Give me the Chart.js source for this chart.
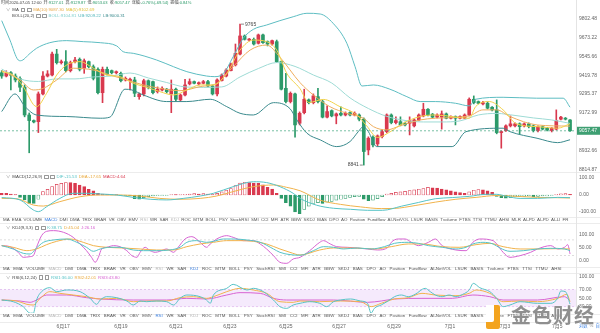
<!DOCTYPE html>
<html><head><meta charset="utf-8">
<script src="https://cdn.jsdelivr.net/npm/chart.js@4.4.0/dist/chart.umd.min.js"></script>
<style>
html,body{margin:0;padding:0;background:#fff;}
#wrap{position:relative;width:600px;height:333px;overflow:hidden;background:#fff;font-family:"Liberation Sans",Arial,"Noto Sans CJK SC",sans-serif;}
canvas{position:absolute;left:0;}
.t{position:absolute;white-space:nowrap;line-height:1;color:#444;}
.t span{margin-right:2px;}
.ico{display:inline-block;width:2.6px;height:2.6px;border:0.6px solid #999;border-radius:0.5px;margin-right:1.6px;vertical-align:middle;}
.hl{position:absolute;left:0;width:600px;height:1px;background:#ececec;}
.row{position:absolute;left:3px;display:flex;justify-content:space-between;font-size:4.4px;line-height:1;color:#555;white-space:nowrap;}
</style></head>
<body><div id="wrap">
<canvas id="cMain" width="600" height="172" style="top:0"></canvas>
<canvas id="cMacd" width="600" height="45" style="top:172px"></canvas>
<canvas id="cKdj" width="600" height="43" style="top:223px"></canvas>
<canvas id="cRsi" width="600" height="61" style="top:272px"></canvas>
</div>
<script>
// ---- candles (4h) ----
const opens = [9436,9414,9436,9414,9397,9340,9159,9123,9116,9296,9414,9421,9561,9503,9510,9450,9510,9526,9466,9510,
  9476,9459,9304,9459,9450,9436,9432,9388,9383,9388,9278,9296,9383,9377,9311,9322,9327,9296,9327,9257,
  9289,9362,9377,9362,9366,9377,9348,9296,9383,9414,9450,9488,9561,9684,9656,9661,9634,9691,9645,9629,
  9645,9510,9333,9246,9296,9106,9174,9257,9239,9278,9246,9145,9187,9153,9170,9159,9174,9159,9159,9132,
  8936,9017,8974,9021,9052,9159,9110,9116,9106,9106,9089,9127,9153,9196,9164,9145,9145,9166,9138,9149,
  9138,9138,9159,9261,9246,9231,9235,9209,9192,9046,9059,9089,9089,9102,9089,9102,9089,9059,9084,9074,
  9059,9068,9132,9138,9127.01];
const highs = [9450,9449,9444,9428,9408,9355,9172,9127,9309,9443,9450,9575,9593,9521,9584,9514,9539,9535,9528,9514,
  9488,9468,9474,9474,9454,9448,9441,9408,9401,9406,9302,9393,9388,9381,9342,9342,9332,9388,9335,9296,
  9393,9395,9381,9375,9385,9385,9355,9395,9428,9463,9501,9629,9765,9691,9667,9670,9697,9697,9650,9656,
  9656,9514,9432,9309,9302,9179,9327,9263,9296,9333,9257,9218,9192,9172,9211,9179,9179,9179,9166,9140,
  9019,9025,9031,9063,9166,9166,9147,9147,9114,9147,9134,9166,9235,9201,9169,9166,9185,9172,9153,9153,
  9153,9166,9270,9283,9250,9247,9244,9214,9257,9057,9095,9153,9108,9108,9108,9108,9095,9089,9089,9079,
  9079,9192,9150,9143,9129.87];
const lows = [9399,9408,9322,9375,9311,9147,8918,9108,9046,9289,9408,9414,9494,9494,9441,9441,9501,9448,9432,9468,
  9388,9296,9239,9421,9428,9428,9375,9381,9322,9278,9261,9283,9329,9296,9302,9316,9302,9174,9250,9250,
  9283,9355,9362,9355,9362,9342,9289,9283,9381,9408,9448,9481,9555,9656,9650,9622,9629,9633,9616,9622,
  9504,9322,9237,9237,9017,9095,9166,9231,9231,9237,9140,9140,9147,9102,9153,9153,9153,9153,9121,8841,
  8905,8955,8962,9012,9044,9102,9102,9089,9089,9031,9082,9121,9147,9153,9140,9140,9068,9134,9134,9095,
  9134,9134,9153,9231,9231,9224,9198,9185,9038,8947,9054,9082,9082,9038,9082,9076,9050,9050,9063,9057,
  9050,9063,9127,9127,9053.03];
const closes = [9414,9432,9419,9388,9340,9159,9123,9114,9296,9414,9428,9561,9503,9510,9450,9503,9521,9459,9516,9476,
  9399,9304,9459,9428,9436,9443,9383,9399,9393,9300,9296,9383,9340,9304,9327,9333,9311,9327,9261,9289,
  9355,9377,9366,9370,9377,9348,9296,9388,9421,9454,9494,9566,9684,9661,9661,9629,9691,9638,9629,9652,
  9510,9327,9246,9300,9095,9170,9261,9239,9283,9246,9145,9181,9153,9166,9159,9170,9159,9170,9132,8926,
  9010,8968,9025,9052,9159,9110,9123,9095,9095,9123,9127,9159,9196,9159,9145,9159,9166,9138,9149,9138,
  9149,9159,9261,9239,9235,9239,9203,9192,9046,9052,9089,9102,9102,9084,9102,9084,9059,9084,9068,9063,
  9074,9123,9145,9132,9057.47];
const priceTicks = [9802.48, 9673.22, 9545.66, 9419.78, 9295.37, 9172.99, 8932.66, 8814.87];

// ---- main overlays (candle index, value) ----
const ma5X = [0,2.5,4.7,7.6,9.8,12,14.2,17.1,20,22.9,25.8,28.7,31.6,34.5,37.5,40.4,43.3,46.2,49.1,52,54.9,57.8,60,62.2,65.1,67,70.2,73.8,77.5,79.6,82,84.7,87.6,91.3,94.6,102,103.4,106.4,109.4,112.3,116.8,121.3,124];
const ma5Y = [9443,9421,9344,9213,9300,9421,9488,9510,9466,9421,9410,9366,9340,9311,9289,9322,9355,9355,9432,9588,9656,9645,9588,9432,9330,9240,9260,9213,9159,9090,9015,9050,9106,9149,9159,9138,9213,9246,9192,9102,9084,9074,9102.69];
const ma10X = [0,4,6.9,9.1,12,15.6,20,23.6,27.3,30.9,34.5,38.9,43.3,46.9,50.5,54.2,57.8,60.7,65.1,68,71.6,75.3,78.9,81.1,84,86.9,91.3,94.6,102,105,108,110.9,116.8,124];
const ma10Y = [9450,9388,9322,9333,9388,9466,9454,9421,9388,9355,9333,9317,9344,9366,9476,9588,9622,9540,9370,9289,9213,9170,9138,9084,9063,9089,9127,9138,9153,9192,9192,9149,9095,9087.30];
const ubX = [0,1.8,3.6,4.1,6.2,7.6,10.5,14.2,17.8,21.5,25.1,26.5,28.7,33.8,37.5,40.4,44.7,46.5,48.4,50.5,52.7,54.9,57.8,60.7,63.6,66.6,69.5,72.3,75.3,77.1,78.6,81.1,84.7,88.4,91.3,94.6,99,102,103.4,109.4,116.7,122.5,124];
const ubY = [9789,9656,9521,9516,9566,9600,9638,9652,9645,9638,9616,9577,9566,9521,9476,9443,9414,9410,9432,9543,9668,9729,9759,9789,9816,9840,9835,9771,9634,9476,9348,9355,9327,9278,9246,9246,9235,9218,9261,9274,9268,9268,9209.22];
const midX = [0,4,8,12,16,20,24,28,32,36,40,44,48,52,56,60,64,68,72,76,80,84,88,92,96,100,104,108,112,116,120,124];
const midY = [9461,9395,9378,9395,9395,9408,9414,9434,9401,9371,9342,9339,9342,9408,9464,9504,9478,9421,9368,9270,9201,9150,9124,9114,9114,9121,9159,9169,9156,9140,9127,9104.81];
const lbX = [0,2.9,5.1,7.6,14.2,21.5,23.6,26.9,28.4,30.9,36,40.4,45.5,49.1,52,54.9,59.3,62.9,64.4,66.6,69.5,73.1,76,77.8,78.9,80,81.8,98.3,101.3,109.4,110.9,116.8,121.3,124];
const lbY = [9181,9296,9213,9159,9149,9138,9145,9327,9322,9289,9246,9246,9261,9213,9170,9159,9239,9200,9127,9042,8999.5,8957,8989,9052,9084,9052,8957,8957,9052,9074,9052,9010,8982,9000.31];

// ---- MACD(12,26,9) ----
const macdHist = [10,10,6,3,-14,-29,-49,-49,-25,20,33,49,63,69,73,73,69,59,49,33,
  25,10,6,4,3,2,-2,-3,-5,-22,-25,-15,-10,-6,-4,-3,-2,2,2,3,
  4,6,8,6,8,5,3,10,18,28,38,55,70,75,73,70,68,60,45,35,
  10,-20,-45,-65,-100,-110,-85,-65,-50,-45,-50,-42,-38,-30,-25,-20,-14,-10,-8,-25,
  -33,-30,-22,-10,5,10,15,18,22,26,30,34,38,45,42,40,35,30,25,18,
  14,10,18,28,32,30,25,15,-8,-15,-18,-15,-12,-10,-8,-6,-10,-8,-6,-5,
  -3,4,7,8,4.64];
const difX = [0,4,6.9,8,9.8,12.7,15.6,18.5,21.5,25.1,28.7,32.4,36,39.6,43.3,46.2,50.5,54.9,57.8,60.7,63.6,65.1,68.7,72.4,76.1,79.8,83.1,87.2,90.9,94.6,98.3,102,105.7,108,110.2,113.1,116.9,121.3,124];
const difY = [-15,-29,-88,-98,-69,-20,10,10,6,0,-14,-25,-29,-20,-6,10,49,78,73,49,10,-20,-60,-78,-84,-90,-90,-66,-44,-22,-15,-8,4,4,-8,-20,-20,-14,-15.53];
const deaX = [0,3.3,6.9,9.1,12.7,17.1,21.5,25.8,30.2,34.5,38.9,43.3,46.9,50.5,54.9,59.3,62.2,65.1,69.4,73.9,78.3,82.8,85.7,90.2,94.6,99.1,103.5,108,112.4,116.9,121.3,124];
const deaY = [-20,-22,-59,-65,-39,-10,0,0,-6,-20,-25,-20,-6,20,49,59,45,25,-30,-55,-70,-80,-79,-62,-42,-25,-14,-3,-8,-14,-16,-17.65];

// ---- KDJ(9,3,3) ----
const kX = [0,2.5,4.7,6.2,7.6,9.1,11.3,14.2,16.4,18.5,20,21.5,23.6,25.8,28.7,30.9,33.8,36.7,38.9,40.4,42.5,44.7,46.2,48.4,50.5,53.5,56.4,59.3,60.7,62.9,65.1,68,70.2,72.4,74.6,77.6,80.6,83.5,85.7,88.7,90.9,93.1,96.1,99.1,101.3,102.8,105,107.2,108.7,110.9,113.9,116.9,119.8,122.8,124];
const kY = [57.9,45.1,28.4,25.8,48.9,70.7,79.7,83.5,70.7,51.5,36.1,45.1,51.5,51.5,41.2,38.6,38.6,41.2,51.5,70.7,77.1,70.7,74.5,83.5,83.5,79.7,70.7,45.1,32.2,23.3,21,38.6,54,51.5,45.1,48.9,45.1,54,66.8,70.7,66.8,57.9,51.5,45.1,51.5,64.3,70.7,64.3,48.9,36.1,38.6,45.1,47.6,45.1,38.75];
const dX = [0,2.5,5.5,7.6,9.8,12,14.9,17.8,20,22.9,26.5,30.2,33.8,37.5,40.4,43.3,46.2,49.1,52,54.9,57.8,60.7,62.9,65.1,69.4,72.4,76.9,81.3,85,88.7,91.7,96.1,99.8,103.5,106.5,109.4,113.1,116.9,121.3,124];
const dY = [57.9,51.5,38.6,45.1,61.7,74.5,83.5,70.7,57.9,51.5,48.9,45.1,41.2,41.2,54,64.3,70.7,77.1,77.1,74.5,64.3,45.1,32.2,22,41.2,48.9,48.9,45.1,54,64.3,64.3,54,51.5,61.7,66.8,54,45.1,45.1,46.3,45.04];
const jX = [0,1.8,3.6,4.7,6.2,6.9,7.6,8.7,9.8,11.3,13.5,15.6,17.1,18.5,19.6,20.4,21.1,21.8,22.9,24.4,25.8,27.3,28.4,29.5,30.2,31.3,32.4,33.5,34.5,36,37.5,38.5,40,41.5,43.3,44.7,45.5,46.9,49.1,50.5,52.7,54.9,56.4,57.8,59.3,60.7,62.2,63.6,65.1,67.2,69.4,70.2,71.7,73.1,75.4,79.8,82,84.3,85,86.5,88,89.4,90.9,93.1,94.6,96.1,99.1,101.3,102.8,104.3,107.2,108,109.4,110.9,113.1,115.4,116.9,119.8,121.3,122.8,123.5,124];
const jY = [57.9,54,32.2,13,15.6,19.4,51.5,96.3,113,115.6,109.1,89.9,64.3,38.6,13,-6.2,13,45.1,51.5,57.9,54,38.6,19.4,13,32.2,51.5,38.6,32.2,36.1,45.1,32.2,51.5,83.5,92.5,70.7,51.5,64.3,83.5,96.3,89.9,77.1,77.1,64.3,45.1,19.4,-6.2,-10.1,6.6,13,38.6,70.7,77.1,64.3,54,51.5,45.1,41.2,51.5,70.7,83.5,83.5,70.7,57.9,70.7,83.5,57.9,41.2,38.6,70.7,83.5,77.1,64.3,32.2,13,19.4,32.2,45.1,57.9,45.1,51.5,61.7,26.16];

// ---- RSI(6,12,24) ----
const r1X = [0,2.5,4.7,6.2,6.9,7.6,8.7,10.5,12,14.2,17.1,19.3,20.7,21.5,22.9,25.1,27.3,28.7,30.2,31.6,33.8,36,37.5,38.9,40.4,43.3,44.7,45.5,46.2,49.1,50.5,53.5,54.9,57.1,59.3,60.7,62.2,63.6,65.1,67.2,69.4,70.9,72.4,73.9,76.1,78.3,79.8,80.6,81.3,82.8,84.3,85.7,87.2,88.7,90.2,92.4,93.5,94.6,96.1,97.6,99.1,100.6,102,102.9,104.3,106.5,108,109.4,110.9,113.1,116.9,119.8,121.3,122,123,124];
const r1Y = [45.6,41.7,30.1,14.5,14.5,45.6,65.1,74.4,65.1,69,65.1,49.5,35.5,45.6,53.4,51.1,43.3,34,43.3,41.7,43.3,41.7,34,49.5,57.3,53.4,45.6,37.9,57.3,72.9,82.2,69,72.9,65.1,45.6,30.1,26.2,34,37.9,41.7,37.9,30.1,41.7,45.6,48,43.3,37.9,14.5,26.2,34,43.3,53.4,57.3,53.4,58.9,72.9,65.1,57.3,53.4,57.3,53.4,58.9,69,84.5,74.4,65.1,49.5,30.1,34,41.7,37.9,37.9,49.5,66.6,65.1,36];
const r2X = [0,3.3,5.5,6.9,8.4,10.5,12.7,15.6,18.5,21.5,25.1,28.7,32.4,36,38.9,41.8,44.7,46.2,49.1,52,54.9,57.8,60.7,63.6,65.1,69.4,73.9,78.3,80.6,82.8,85.7,88.7,91.7,94.6,99.1,102,103.5,106.5,109.4,113.1,116.9,121.3,123.3,124];
const r2Y = [45.6,43.3,35.5,34,49.5,65.1,61.2,57.3,53.4,48,49.5,41.7,43.3,43.3,51.1,53.4,49.5,53.4,65.1,72.9,69,61.2,41.7,40.2,43.3,41.7,43.3,41.7,30.1,37.9,48,51.1,61.2,57.3,55.8,61.2,69,61.2,41.7,43.3,41.7,49.5,58.9,42.01];
const r3X = [0,4,6.2,7.6,9.8,14.2,18.5,21.5,28.7,36,40.4,44.7,49.1,52,56.4,59.3,62.2,65.1,72.4,79.8,82.8,85.7,91.7,98.3,102.8,106.5,109.4,116.9,122.8,124];
const r3Y = [45.6,43.3,40.2,45.6,57.3,57.3,51.1,48,45.6,45.6,49.5,48,57.3,62.8,61.2,49.5,45.6,45.6,45.6,40.2,43.3,48,49.5,49.5,57.3,53.4,45.6,45.6,53.4,43.8];

// ---- time axis ----
const dateIdx = [13.4, 26.0, 38.0, 49.8, 62.0, 73.6, 85.6, 97.8, 109.8, 121.2];
const dateLabels = ['6月17','6月19','6月21','6月23','6月25','6月27','6月29','7月1','7月3','7月5'];

const RED = '#d9394e', GREEN = '#2c9a69';
const TEAL = '#56c3c6', ORG = '#f1b34c', MAG = '#d763d2';
const C_UB = '#5dbdc2', C_MID = '#9edbd5', C_LB = '#3a8a8d', C_MA5 = '#f2d24b', C_MA10 = '#efae5e';
const FONT = '"Liberation Sans", Arial, sans-serif';
const X_MIN = -0.37, X_MAX = 125.3;

const pts = (xs, ys) => xs.map((x, i) => ({x, y: ys[i]}));
const line = (xs, ys, color, extra) => Object.assign({
  type: 'line', data: pts(xs, ys), borderColor: color, borderWidth: 1,
  pointRadius: 0, cubicInterpolationMode: 'monotone', fill: false, order: 1
}, extra || {});
const flat = (v, color, extra) => Object.assign({
  type: 'line', data: [{x: X_MIN, y: v}, {x: X_MAX, y: v}], borderColor: color,
  borderWidth: 0.7, borderDash: [2, 2], pointRadius: 0, fill: false, order: 0
}, extra || {});

function xAxis(show) {
  const ax = {type: 'linear', min: X_MIN, max: X_MAX, offset: false, display: show,
    grid: {display: false, drawTicks: false, offset: false}, border: {display: false}};
  if (show) {
    ax.ticks = {padding: 11, color: '#666', autoSkip: false, maxRotation: 0, minRotation: 0,
      font: {size: 5, family: '"Liberation Sans", "Noto Sans CJK SC", sans-serif'},
      callback: (v, i) => dateLabels[i]};
    ax.afterBuildTicks = s => { s.ticks = dateIdx.map(v => ({value: v})); };
    ax.afterFit = s => { s.height = 20; s.paddingLeft = 0; s.paddingRight = 0; };
  }
  return ax;
}
function yAxis(min, max, ticks, type) {
  return {type: type || 'linear', position: 'right', min, max,
    grid: {display: false, drawTicks: false}, border: {display: false},
    ticks: {padding: 3, color: '#666', font: {size: 5, family: FONT}, callback: v => Number(v).toFixed(2)},
    afterBuildTicks: s => { s.ticks = ticks.map(v => ({value: v})); },
    afterFit: s => { s.width = 24; s.paddingTop = 0; s.paddingBottom = 0; }};
}
function opts(scales) {
  return {responsive: false, animation: false, devicePixelRatio: 1, events: [],
    layout: {padding: 0}, plugins: {legend: {display: false}, tooltip: {enabled: false}}, scales};
}

// extreme labels and last-price tag on the main panel
const mainMarks = {
  id: 'mainMarks',
  afterDatasetsDraw(chart) {
    const {ctx, chartArea, scales: {x, y}} = chart;
    let hi = 0, lo = 0;
    highs.forEach((v, i) => { if (v > highs[hi]) hi = i; if (lows[i] < lows[lo]) lo = i; });
    ctx.save();
    ctx.font = '5px ' + FONT; ctx.textBaseline = 'middle';
    ctx.strokeStyle = '#555'; ctx.fillStyle = '#444'; ctx.lineWidth = 0.7;
    let px = x.getPixelForValue(hi), py = y.getPixelForValue(highs[hi]);
    ctx.beginPath(); ctx.moveTo(px + 1, py); ctx.lineTo(px + 4, py); ctx.stroke();
    ctx.textAlign = 'left'; ctx.fillText(String(highs[hi]), px + 5, py);
    px = x.getPixelForValue(lo); py = y.getPixelForValue(lows[lo]);
    ctx.beginPath(); ctx.moveTo(px - 1, py); ctx.lineTo(px - 4, py); ctx.stroke();
    ctx.textAlign = 'right'; ctx.fillText(String(lows[lo]), px - 5, py);
    const last = closes[closes.length - 1];
    const cy = y.getPixelForValue(last);
    ctx.fillStyle = '#3e9f72';
    ctx.fillRect(chartArea.right, cy - 4, 24, 8);
    ctx.fillStyle = '#fff'; ctx.textAlign = 'left';
    ctx.fillText(last.toFixed(2), chartArea.right + 3, cy + 0.3);
    ctx.restore();
  }
};

const candleCol = opens.map((o, i) => closes[i] >= o ? RED : GREEN);
new Chart(document.getElementById('cMain'), {
  type: 'bar',
  data: {datasets: [
    flat(closes[closes.length - 1], '#3ea57c'),
    line(ma5X, ma5Y, C_MA5),
    line(ma10X, ma10Y, C_MA10),
    line(ubX, ubY, C_UB),
    line(midX, midY, C_MID),
    line(lbX, lbY, C_LB),
    {type: 'bar', data: opens.map((o, i) => ({x: i, y: [o, closes[i]]})), backgroundColor: candleCol,
      borderWidth: 0, barThickness: 3, minBarLength: 1, grouped: false, order: 2},
    {type: 'bar', data: opens.map((o, i) => ({x: i, y: [lows[i], highs[i]]})), backgroundColor: candleCol,
      borderWidth: 0, barThickness: 1, grouped: false, order: 3}
  ]},
  options: opts({x: xAxis(false), y: yAxis(8798, 9932.6, priceTicks, 'logarithmic')}),
  plugins: [mainMarks]
});

const histCol = macdHist.map(v => v >= 0 ? RED : GREEN);
new Chart(document.getElementById('cMacd'), {
  type: 'bar',
  data: {datasets: [
    line(difX, difY, TEAL, {order: 0}),
    line(deaX, deaY, ORG, {order: 0}),
    {type: 'bar', data: macdHist.map((v, i) => ({x: i, y: v})),
      backgroundColor: macdHist.map((v, i) => (i > 0 && v > macdHist[i - 1]) ? '#fff' : histCol[i]),
      borderColor: histCol, borderWidth: 0.7, borderSkipped: false, barThickness: 3, grouped: false, order: 2}
  ]},
  options: opts({x: xAxis(false), y: yAxis(-129.4, 135.3, [100, 0, -100])})
});

new Chart(document.getElementById('cKdj'), {
  type: 'line',
  data: {datasets: [
    line(kX, kY, TEAL), line(dX, dY, ORG), line(jX, jY, MAG),
    flat(80, '#cfcfcf', {order: 3}), flat(20, '#cfcfcf', {order: 3})
  ]},
  options: opts({x: xAxis(false), y: yAxis(-20.4, 145, [100, 50, 0])})
});

new Chart(document.getElementById('cRsi'), {
  type: 'line',
  data: {datasets: [
    line(r1X, r1Y, TEAL), line(r2X, r2Y, ORG), line(r3X, r3Y, MAG),
    flat(70, '#dcb1ea', {order: 4, fill: {value: 30}, backgroundColor: 'rgba(226,196,246,0.35)'}),
    flat(30, '#dcb1ea', {order: 4})
  ]},
  options: opts({x: xAxis(true), y: yAxis(15.3, 111, [100, 70, 50, 30])})
});

// ---- page furniture: headers, indicator menus, separators ----
const wrap = document.getElementById('wrap');
function el(cls, css, html) {
  const e = document.createElement('div');
  e.className = cls; Object.assign(e.style, css);
  if (html != null) e.innerHTML = html;
  wrap.appendChild(e); return e;
}
const sp = (s, c) => '<span' + (c ? ' style="color:' + c + '"' : '') + '>' + s + '</span>';
const ico = '<i class="ico"></i>';
function head(x, y, html, size) {
  const fs = size || 4.3;
  el('t', {left: x + 'px', top: (y - fs * 0.55) + 'px', fontSize: fs + 'px'}, html);
}

[172, 217, 223, 266.5, 272.5, 313.5, 321.5].forEach(y => el('hl', {top: y + 'px'}));
el('hl', {left: '576px', top: '0px', width: '1px', height: '322px', background: '#e4e4e4'});

const g = s => '<b style="font-weight:normal;color:' + GREEN + '">' + s + '</b>';
head(1, 2.8, sp('时间2020-07-05 12:00') + sp('开:' + g('9127.01')) + sp('高:' + g('9129.87')) + sp('低:' + g('9053.03')) +
  sp('收:' + g('9057.47')) + sp('涨幅:' + g('-0.76%(-69.54)')) + sp('振幅:' + g('0.84%')), 4.1);
head(6, 10, sp('∨', '#888') + sp('MA') + ico + ico + sp('MA(10):9087.30', '#e8a94a') + sp('MA(5):9102.69', '#e3c13a'));
head(12, 16.2, sp('BOLL(20,2)') + ico + ico + sp('BOLL:9104.81', '#7fcfcc') + sp('UB:9209.22', '#4fb5ba') + sp('LB:9000.31', C_LB));
head(6, 177, sp('∨', '#888') + sp('MACD(12,26,9)') + ico + ico + sp('DIF:-15.53', TEAL) + sp('DEA:-17.65', '#e9a83a') + sp('MACD:4.64', RED));
head(6, 228, sp('∨', '#888') + sp('KDJ(9,3,3)') + ico + ico + sp('K:38.75', TEAL) + sp('D:45.04', '#e9a83a') + sp('J:26.16', MAG));
head(6, 277.5, sp('∨', '#888') + sp('RSI(6,12,24)') + ico + ico + sp('RSI1:36.00', TEAL) + sp('RSI2:42.01', '#e9a83a') + sp('RSI3:43.80', MAG));

const menu = ['MA','EMA','VOLUME','MACD','DMI','DMA','TRIX','BRAR','VR','OBV','EMV','RSI','WR','SAR','KDJ','ROC','MTM','BOLL','PSY',
  'StochRSI','SMI','CCI','MFI','ATR','BBW','SKDJ','BIAS','DPO','AO','Position','Fundflow','AI-NetVOL','LSUR','BASIS','Tvolume','FTBS','TTSI','TTMU','AHSI'];
function menuRow(y, width, words, active) {
  const html = words.map(w => {
    const c = w === active ? '#3d80e0' : (['MACD', 'KDJ', 'RSI'].includes(w) ? '#b9b9b9' : '#555');
    return '<span style="color:' + c + '">' + w + '</span>';
  }).join('');
  el('row', {top: (y - 2.4) + 'px', width: width + 'px'}, html);
}
menuRow(220, 566, menu.concat(['MLR', 'AI-PD', 'AI-PD', 'AI-LI', 'FR']), 'MACD');
menuRow(269.5, 559, menu, 'KDJ');
menuRow(316.8, 559, menu, 'RSI');

head(579, 326.5, sp('对数', '#3d80e0') + sp('%', '#888') + sp('自动', '#3d80e0'), 4.3);

// watermark
el('t', {left: '486px', top: '305px', width: '14px', height: '24px', background: '#f3a41f', borderRadius: '2px'});
el('t', {left: '486px', top: '305px', width: '8px', height: '17px', background: '#fff', borderRadius: '0 0 2px 0'});
el('t', {left: '511px', top: '305px', fontSize: '20px', letterSpacing: '1px', color: '#8f8f8f', fontWeight: 'bold',
  fontFamily: '"Noto Sans CJK SC", sans-serif', textShadow: '0 0 1px #fff, 0 0 1px #fff'}, '金色财经');
</script>
</body></html>
